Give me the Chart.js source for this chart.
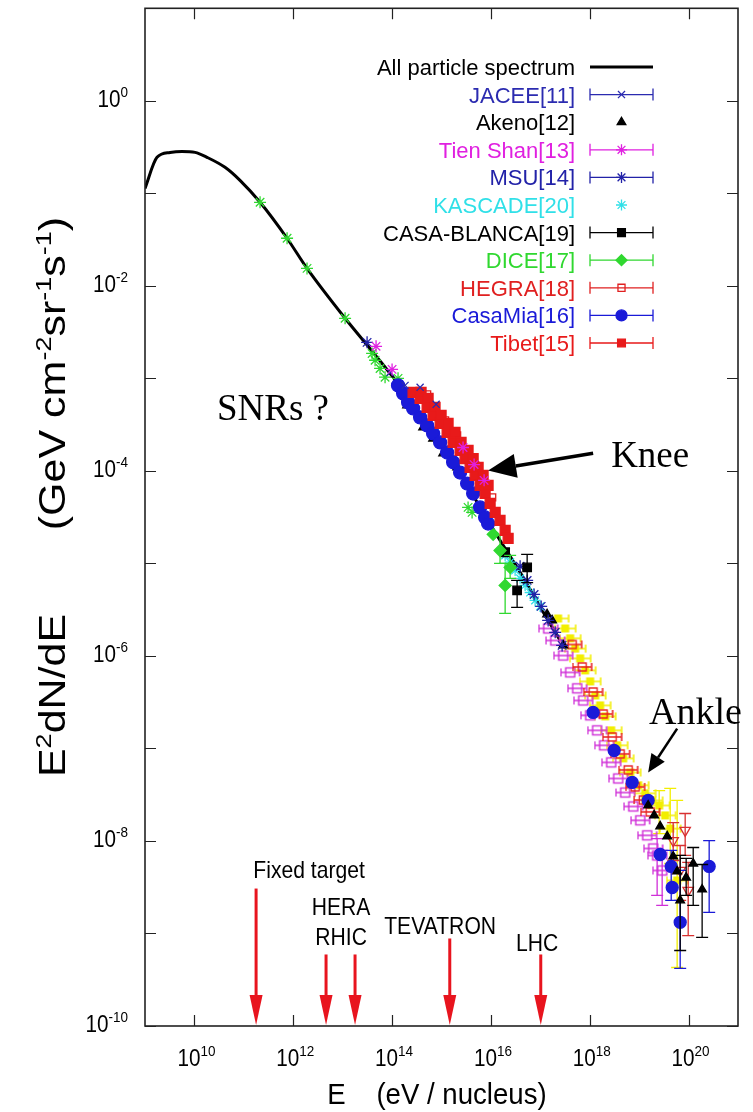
<!DOCTYPE html>
<html>
<head>
<meta charset="utf-8">
<script src="https://cdn.jsdelivr.net/npm/chart.js@4.4.1/dist/chart.umd.min.js"></script>
<style>
  html, body { margin: 0; padding: 0; background: #fff; }
</style>
</head>
<body>
<canvas id="c" width="753" height="1112"></canvas>
<script>
// ---- data (E in eV, E^2 dN/dE in GeV cm^-2 sr^-1 s^-1) ----
const curveE = [1e9, 1.75e9, 3.21e9, 5.61e9, 1.03e10, 1.8e10, 4.16e10, 8.37e10, 2.13e11, 7.48e11, 1.9e12, 1.12e13, 4.12e13, 1.26e14, 3.69e14, 1.18e15, 3.79e15, 1.22e16, 3.9e16, 1.25e17, 2.52e17];
const curveF = [0.113, 0.245, 0.277, 0.284, 0.277, 0.245, 0.191, 0.138, 0.080, 0.0327, 0.01545, 0.00446, 0.00191, 9.06e-4, 4.08e-4, 1.67e-4, 6.15e-5, 2.16e-5, 8.0e-6, 2.74e-6, 1.47e-6];

const greenE = [2.13e11, 7.5e11, 1.9e12, 1.12e13, 3.94e13, 4.53e13, 5.71e13, 7.21e13, 1.32e14, 3.45e15, 4.16e15];
const greenF = [0.080, 0.0327, 0.01545, 0.00446, 0.00186, 0.00157, 0.00128, 0.00103, 0.0010, 4.03e-5, 3.56e-5];

const jaceeE = [9.12e13, 1.83e14, 3.69e14, 7.78e14];
const jaceeF = [1.16e-3, 8.4e-4, 8.0e-4, 5.24e-4];

const akenoE = [2.01e14, 4.25e14, 6.76e14, 1.08e15, 2.07e15, 1.37e17, 1.73e17, 2.9e17, 1.52e19, 2.01e19, 2.66e19, 3.69e19, 4.88e19, 5.87e19, 6.76e19, 8.93e19, 1.24e20, 1.88e20];
const akenoF = [5.1e-4, 2.95e-4, 2.24e-4, 1.55e-4, 1.09e-4, 2.81e-6, 2.42e-6, 1.3e-6, 2.42e-8, 1.89e-8, 1.44e-8, 1.12e-8, 6.8e-9, 4.68e-9, 2.28e-9, 4.03e-9, 5.71e-9, 2.99e-9];
const akenoLo = [null, null, null, null, null, null, null, null, null, null, null, null, null, null, 6.55e-10, 2.58e-9, 2.01e-9, 9.06e-10];
const akenoHi = [null, null, null, null, null, null, null, null, null, null, null, null, null, null, 6.97e-9, 6.47e-9, 8.5e-9, 5.57e-9];

const tienE = [4.74e13, 1.0e14, 2.73e15, 4.57e15, 7.28e15];
const tienF = [2.22e-3, 1.25e-3, 1.79e-4, 1.17e-4, 7.9e-5];

const msuE = [3.12e13, 3.9e16, 5.41e16, 7.48e16, 1.04e17, 1.44e17, 2.0e17, 2.76e17];
const msuF = [2.45e-3, 9.3e-6, 6.55e-6, 4.62e-6, 3.43e-6, 2.42e-6, 1.8e-6, 1.3e-6];

const kascadeE = [1.94e16, 2.45e16, 3.09e16, 3.9e16, 4.92e16, 6.22e16, 7.85e16, 9.9e16];
const kascadeF = [1.22e-5, 1.03e-5, 8.4e-6, 6.9e-6, 5.78e-6, 4.85e-6, 3.98e-6, 3.43e-6];

const casaBE = [1.94e16, 5.41e16, 3.39e16];
const casaBF = [1.32e-5, 9.06e-6, 5.1e-6];
const casaBLo = [null, 6.2e-6, 3.34e-6];
const casaBHi = [null, 1.25e-5, 6.55e-6];

const diceE = [1.11e16, 1.53e16, 2.45e16, 1.94e16];
const diceF = [2.06e-5, 1.38e-5, 9.06e-6, 5.78e-6];
const diceLo = [null, 1.0e-5, 6.9e-6, 2.88e-6];
const diceHi = [null, 2.01e-5, 1.22e-5, 1.0e-5];

const hegraE = [5.12e14, 1.18e15, 2.07e15, 4.79e15, 1.06e16];
const hegraF = [6.7e-4, 3.52e-4, 2.42e-4, 1.15e-4, 5.18e-5];

const casaMiaE = [1.32e14, 1.67e14, 2.11e14, 2.66e14, 3.69e14, 5.12e14, 6.76e14, 9.38e14, 1.30e15, 1.72e15, 2.38e15, 3.3e15, 4.37e15, 6.04e15, 7.64e15, 8.77e15];
const casaMiaF = [8.4e-4, 6.89e-4, 5.5e-4, 4.74e-4, 3.79e-4, 3.1e-4, 2.54e-4, 2.03e-4, 1.58e-4, 1.24e-4, 9.6e-5, 7.3e-5, 5.7e-5, 4.03e-5, 3.14e-5, 2.7e-5];

const tibetE = [2.66e14, 3.69e14, 5.12e14, 6.76e14, 9.38e14, 1.30e15, 1.72e15, 2.38e15, 3.0e15, 3.79e15, 4.79e15, 6.04e15, 7.64e15, 9.64e15, 1.22e16, 1.53e16, 1.94e16, 2.23e16,
                3.86e14, 5.36e14, 7.41e14, 9.82e14, 1.36e15, 1.88e15, 2.49e15, 3.45e15, 4.37e15, 5.51e15, 6.95e15, 8.77e15];
const tibetF = [7.06e-4, 6.08e-4, 4.85e-4, 3.98e-4, 3.27e-4, 2.61e-4, 2.03e-4, 1.67e-4, 1.36e-4, 1.09e-4, 8.93e-5, 6.97e-5, 5.71e-5, 4.46e-5, 3.56e-5, 2.92e-5, 2.28e-5, 1.86e-5,
                7.06e-4, 6.08e-4, 4.85e-4, 3.98e-4, 3.27e-4, 2.61e-4, 2.03e-4, 1.67e-4, 1.36e-4, 1.09e-4, 8.93e-5, 6.97e-5];

// unlabelled high energy sets
const yelE = [2.29e17, 3.18e17, 4.01e17, 5.06e17, 6.4e17, 8.07e17, 1.02e18, 1.29e18, 1.62e18, 2.05e18, 2.71e18, 3.59e18, 4.74e18, 6.58e18, 9.55e18, 1.32e19, 1.83e19, 2.54e19, 3.36e19, 4.25e19, 5.87e19];
const yelF = [2.54e-6, 1.98e-6, 1.55e-6, 1.2e-6, 9.4e-7, 6.97e-7, 5.3e-7, 3.74e-7, 2.92e-7, 2.22e-7, 1.57e-7, 1.08e-7, 7.8e-8, 5.5e-8, 4.0e-8, 3.27e-8, 2.74e-8, 2.42e-8, 1.89e-8, 1.36e-8, 3.74e-9];
const yelLo = [null, null, null, null, null, null, null, null, null, null, null, null, null, null, null, null, null, 1.2e-8, null, 5.71e-9, 4.29e-10];
const yelHi = [null, null, null, null, null, null, null, null, null, null, null, null, null, null, null, null, null, 3.5e-8, null, 3.7e-8, 2.74e-8];

const magE = [1.44e17, 2.0e17, 2.9e17, 4.01e17, 5.56e17, 7.35e17, 1.02e18, 1.41e18, 1.95e18, 2.71e18, 3.76e18, 5.21e18, 7.57e18, 1.05e19, 1.45e19, 1.92e19, 2.31e19, 2.92e19];
const magF = [1.98e-6, 1.47e-6, 1.01e-6, 6.64e-7, 4.46e-7, 3.3e-7, 2.28e-7, 1.57e-7, 1.08e-7, 7.06e-8, 4.74e-8, 3.34e-8, 2.36e-8, 1.67e-8, 1.15e-8, 8.3e-9, 6.97e-9, 4.8e-9];
const magLo = [null, null, null, null, null, null, null, null, null, null, null, null, null, null, null, null, 2.58e-9, 2.01e-9];
const magHi = [null, null, null, null, null, null, null, null, null, null, null, null, null, null, null, null, 1.06e-8, 7.9e-9];

const redE = [4.4e17, 7.02e17, 1.17e18, 1.87e18, 2.84e18, 4.12e18, 5.98e18, 8.3e18, 1.21e19, 1.67e19];
const redF = [1.33e-6, 7.6e-7, 4.08e-7, 2.36e-7, 1.33e-7, 8.73e-8, 5.86e-8, 3.84e-8, 2.77e-8, 2.06e-8];

const haverahE = [4.88e19, 6.76e19, 8.53e19, 9.82e19];
const haverahF = [1.01e-8, 4.8e-9, 1.3e-8, 2.92e-9];
const haverahLo = [6.15e-9, 2.28e-9, 6.97e-9, 9.5e-10];
const haverahHi = [1.58e-8, 8.93e-9, 1.98e-8, 5.86e-9];

const blueE = [1.17e18, 3.12e18, 7.21e18, 1.52e19, 2.66e19, 4.45e19, 4.66e19, 6.76e19, 2.61e20];
const blueF = [2.45e-7, 9.5e-8, 4.29e-8, 2.74e-8, 7.14e-9, 5.3e-9, 3.14e-9, 1.32e-9, 5.3e-9];
const blueLo = [null, null, null, null, null, 2.28e-9, null, 4.19e-10, 1.69e-9];
const blueHi = [null, null, null, null, null, 7.9e-9, null, 4.8e-9, 1.01e-8];

// accelerator energies and arrow tops
const accelE = [1.77e11, 4.61e12, 1.78e13, 1.47e15, 1.02e17];
const accelTop = [3.06e-9, 5.93e-10, 5.93e-10, 8.83e-10, 5.93e-10];
const accelNames = ['Fixed target', 'HERA', 'RHIC', 'TEVATRON', 'LHC'];
const accelLabelE = [2.09e12, 9.29e12, 9.29e12, 9.38e14, 8.61e16];
const accelLabelF = [4.8e-9, 1.91e-9, 9.06e-10, 1.19e-9, 7.8e-10];

// axis ticks
const xTickVals = [1e10, 1e12, 1e14, 1e16, 1e18, 1e20];
const xTickExps = ['10', '12', '14', '16', '18', '20'];
const yTickVals = [10, 1, 1e-1, 1e-2, 1e-3, 1e-4, 1e-5, 1e-6, 1e-7, 1e-8, 1e-9, 1e-10];
const yLabelVals = [1, 1e-2, 1e-4, 1e-6, 1e-8, 1e-10];
const yLabelExps = ['0', '-2', '-4', '-6', '-8', '-10'];

const SANS = "'Liberation Sans', Arial, Helvetica, sans-serif";
const SERIF = "'Liberation Serif', 'Times New Roman', serif";

function pts(E, F) { return E.map((e, i) => ({ x: e, y: F[i] })); }

// small marker with horizontal bar and caps
function barMarker(color, filled, half, sq) {
  const c = document.createElement('canvas');
  c.width = 2 * half + 3; c.height = 14;
  const g = c.getContext('2d');
  const mid = half + 1.5;
  g.strokeStyle = color; g.fillStyle = color; g.lineWidth = 1.4;
  g.beginPath();
  g.moveTo(1, 7); g.lineTo(2 * half + 2, 7);
  g.moveTo(1.2, 3); g.lineTo(1.2, 11);
  g.moveTo(2 * half + 1.8, 3); g.lineTo(2 * half + 1.8, 11);
  g.stroke();
  if (filled) g.fillRect(mid - sq / 2, 7 - sq / 2, sq, sq);
  else g.strokeRect(mid - sq / 2, 7 - sq / 2, sq, sq);
  return c;
}

function set(label, E, F, style) {
  return Object.assign({ label, data: pts(E, F), showLine: false, pointBorderWidth: 1.3 }, style);
}

const datasets = [
  set('All particle spectrum', curveE, curveF, { showLine: true, borderColor: '#000', borderWidth: 3, pointRadius: 0, tension: 0.4, cubicInterpolationMode: 'monotone', order: 100, inLegend: true }),
  set('JACEE[11]', jaceeE, jaceeF, { pointStyle: 'crossRot', pointRadius: 5, borderColor: '#2b2bb0', pointBorderColor: '#2b2bb0', pointBackgroundColor: '#2b2bb0', order: 5, inLegend: true, legendBar: true }),
  set('Akeno[12]', akenoE, akenoF, { pointStyle: 'triangle', pointRadius: 5, borderColor: '#000', pointBorderColor: '#000', pointBackgroundColor: '#000', order: 30, inLegend: true, errLo: akenoLo, errHi: akenoHi }),
  set('Tien Shan[13]', tienE, tienF, { pointStyle: 'star', pointRadius: 6, borderColor: '#e020e0', pointBorderColor: '#e020e0', pointBackgroundColor: '#e020e0', order: 4, inLegend: true, legendBar: true }),
  set('MSU[14]', msuE, msuF, { pointStyle: 'star', pointRadius: 6, borderColor: '#2222a8', pointBorderColor: '#2222a8', pointBackgroundColor: '#2222a8', order: 19, inLegend: true, legendBar: true }),
  set('KASCADE[20]', kascadeE, kascadeF, { pointStyle: 'star', pointRadius: 5.5, borderColor: '#30e0e8', pointBorderColor: '#30e0e8', pointBackgroundColor: '#30e0e8', order: 20, inLegend: true }),
  set('CASA-BLANCA[19]', casaBE, casaBF, { pointStyle: 'rect', pointRadius: 6, borderColor: '#000', pointBorderColor: '#000', pointBackgroundColor: '#000', order: 15, inLegend: true, legendBar: true, errLo: casaBLo, errHi: casaBHi }),
  set('DICE[17]', diceE, diceF, { pointStyle: 'rectRot', pointRadius: 6, borderColor: '#30d830', pointBorderColor: '#30d830', pointBackgroundColor: '#30d830', order: 14, inLegend: true, legendBar: true, errLo: diceLo, errHi: diceHi }),
  set('HEGRA[18]', hegraE, hegraF, { pointStyle: 'rect', pointRadius: 5, borderColor: '#e02020', pointBorderColor: '#e02020', pointBackgroundColor: 'rgba(255,255,255,0)', order: 8, inLegend: true, legendBar: true }),
  set('CasaMia[16]', casaMiaE, casaMiaF, { pointStyle: 'circle', pointRadius: 6.5, borderColor: '#1a1ad8', pointBorderColor: '#1a1ad8', pointBackgroundColor: '#1a1ad8', order: 10, inLegend: true, legendBar: true }),
  set('Tibet[15]', tibetE, tibetF, { pointStyle: 'rect', pointRadius: 7, borderColor: '#e81a1a', pointBorderColor: '#e81a1a', pointBackgroundColor: '#e81a1a', order: 7, inLegend: true, legendBar: true }),
  set('', greenE, greenF, { pointStyle: 'star', pointRadius: 6, borderColor: '#30d830', pointBorderColor: '#30d830', order: 12 }),
  set('', yelE, yelF, { pointStyle: barMarker('#f2ee00', true, 10, 8), borderColor: '#f2ee00', order: 50, errLo: yelLo, errHi: yelHi }),
  set('', magE, magF, { pointStyle: barMarker('#d030d8', false, 9, 9), borderColor: '#d030d8', order: 45, errLo: magLo, errHi: magHi }),
  set('', redE, redF, { pointStyle: barMarker('#e82020', false, 9, 8), borderColor: '#e82020', order: 44 }),
  set('', haverahE, haverahF, { pointStyle: 'triangle', rotation: 180, pointRadius: 6, borderColor: '#d83030', pointBorderColor: '#d83030', pointBackgroundColor: 'rgba(255,255,255,0)', order: 41, errLo: haverahLo, errHi: haverahHi }),
  set('', blueE, blueF, { pointStyle: 'circle', pointRadius: 6, borderColor: '#1a1ad8', pointBorderColor: '#1a1ad8', pointBackgroundColor: '#1a1ad8', order: 40, errLo: blueLo, errHi: blueHi })
];

// text with superscripts: parts = [[text, isSup], ...]
function rich(ctx, parts, x, y, o) {
  const sx = o.sx || 1, sy = o.sy || 1;
  let w = 0;
  parts.forEach(p => { ctx.font = (p[1] ? o.sup : o.size) + 'px ' + (o.family || SANS); w += ctx.measureText(p[0]).width; });
  let cx = o.align === 'right' ? -w : o.align === 'center' ? -w / 2 : 0;
  ctx.save();
  ctx.translate(x, y);
  if (o.rotate) ctx.rotate(o.rotate);
  ctx.scale(sx, sy);
  ctx.fillStyle = o.color || '#000';
  ctx.textAlign = 'left';
  ctx.textBaseline = 'alphabetic';
  parts.forEach(p => {
    ctx.font = (p[1] ? o.sup : o.size) + 'px ' + (o.family || SANS);
    ctx.fillText(p[0], cx, p[1] ? -o.raise : 0);
    cx += ctx.measureText(p[0]).width;
  });
  ctx.restore();
}

function arrow(ctx, x1, y1, x2, y2, len, half, lw, color) {
  const a = Math.atan2(y2 - y1, x2 - x1);
  const bx = x2 - len * Math.cos(a), by = y2 - len * Math.sin(a);
  ctx.save();
  ctx.strokeStyle = color; ctx.fillStyle = color; ctx.lineWidth = lw;
  ctx.beginPath(); ctx.moveTo(x1, y1); ctx.lineTo(bx, by); ctx.stroke();
  ctx.beginPath();
  ctx.moveTo(x2, y2);
  ctx.lineTo(bx + half * Math.sin(a), by - half * Math.cos(a));
  ctx.lineTo(bx - half * Math.sin(a), by + half * Math.cos(a));
  ctx.closePath(); ctx.fill();
  ctx.restore();
}

const errorBars = {
  id: 'errorBars',
  beforeDatasetDraw(chart, args) {
    const ds = chart.data.datasets[args.index];
    if (!ds.errLo) return;
    const { ctx } = chart, x = chart.scales.x, y = chart.scales.y;
    ctx.save();
    ctx.strokeStyle = ds.borderColor; ctx.lineWidth = 1.3;
    ds.data.forEach((p, i) => {
      const lo = ds.errLo[i], hi = ds.errHi[i];
      if (lo == null) return;
      const px = x.getPixelForValue(p.x), y1 = y.getPixelForValue(lo), y2 = y.getPixelForValue(hi);
      ctx.beginPath();
      ctx.moveTo(px, y1); ctx.lineTo(px, y2);
      ctx.moveTo(px - 6, y1); ctx.lineTo(px + 6, y1);
      ctx.moveTo(px - 6, y2); ctx.lineTo(px + 6, y2);
      ctx.stroke();
    });
    ctx.restore();
  }
};

const decor = {
  id: 'decor',
  beforeDraw(chart) {
    const { ctx } = chart;
    ctx.save(); ctx.fillStyle = '#fff'; ctx.fillRect(0, 0, chart.width, chart.height); ctx.restore();
  },
  afterDraw(chart) {
    const { ctx, chartArea: a } = chart, x = chart.scales.x, y = chart.scales.y;
    ctx.save();
    // frame and inward ticks
    ctx.strokeStyle = '#222'; ctx.lineWidth = 1.6;
    ctx.strokeRect(a.left, a.top, a.right - a.left, a.bottom - a.top);
    ctx.lineWidth = 1.2;
    ctx.beginPath();
    xTickVals.forEach(v => {
      const px = Math.round(x.getPixelForValue(v)) + 0.5;
      ctx.moveTo(px, a.bottom); ctx.lineTo(px, a.bottom - 11);
      ctx.moveTo(px, a.top); ctx.lineTo(px, a.top + 11);
    });
    yTickVals.forEach(v => {
      const py = Math.round(y.getPixelForValue(v)) + 0.5;
      ctx.moveTo(a.left, py); ctx.lineTo(a.left + 11, py);
      ctx.moveTo(a.right, py); ctx.lineTo(a.right - 11, py);
    });
    ctx.stroke();
    ctx.restore();

    // tick labels
    xTickVals.forEach((v, i) => {
      rich(ctx, [['10', false], [xTickExps[i], true]], x.getPixelForValue(v) + 2, 1066, { size: 23, sup: 15, raise: 10, align: 'center', sx: 0.9 });
    });
    yLabelVals.forEach((v, i) => {
      rich(ctx, [['10', false], [yLabelExps[i], true]], 128, y.getPixelForValue(v) + 6, { size: 23, sup: 15, raise: 10, align: 'right', sx: 0.9 });
    });

    // axis titles
    rich(ctx, [['E    (eV / nucleus)', false]], 437, 1104, { size: 30, sup: 18, raise: 0, align: 'center', sx: 0.92 });
    rich(ctx, [['E', false], ['2', true], ['dN/dE       (GeV cm', false], ['-2', true], ['sr', false], ['-1', true], ['s', false], ['-1', true], [')', false]],
      65, 497, { size: 43, sup: 27, raise: 17, align: 'center', rotate: -Math.PI / 2, sy: 0.85 });

    // legend
    const rows = datasets.filter(d => d.inLegend);
    rows.forEach((d, i) => {
      const ry = 67 + i * 27.6;
      rich(ctx, [[d.label, false]], 575, ry + 8, { size: 22, sup: 14, raise: 0, align: 'right', color: d.borderColor });
      ctx.save();
      ctx.strokeStyle = d.borderColor; ctx.fillStyle = d.pointBackgroundColor || d.borderColor;
      if (i === 0) {
        ctx.lineWidth = 3;
        ctx.beginPath(); ctx.moveTo(590, ry); ctx.lineTo(653, ry); ctx.stroke();
      } else {
        ctx.lineWidth = 1.3;
        if (d.legendBar) {
          ctx.beginPath();
          ctx.moveTo(590, ry); ctx.lineTo(653, ry);
          ctx.moveTo(590, ry - 6); ctx.lineTo(590, ry + 6);
          ctx.moveTo(653, ry - 6); ctx.lineTo(653, ry + 6);
          ctx.stroke();
        }
        Chart.helpers.drawPoint(ctx, { pointStyle: d.pointStyle, radius: Math.min(d.pointRadius, 5.5), rotation: 0, borderWidth: 1.3 }, 621.5, ry);
      }
      ctx.restore();
    });

    // accelerator arrows and labels
    accelE.forEach((e, i) => {
      const px = x.getPixelForValue(e);
      arrow(ctx, px, y.getPixelForValue(accelTop[i]), px, a.bottom - 1, 30, 6.5, 3, '#e8141e');
    });
    accelNames.forEach((t, i) => {
      rich(ctx, [[t, false]], x.getPixelForValue(accelLabelE[i]), y.getPixelForValue(accelLabelF[i]) + 8, { size: 24, sup: 14, raise: 0, align: 'center', sx: 0.88 });
    });

    // annotations (anchors are text baselines)
    rich(ctx, [['SNRs ?', false]], x.getPixelForValue(2.86e10), y.getPixelForValue(3.52e-4), { size: 37, family: SERIF, align: 'left' });
    rich(ctx, [['Knee', false]], x.getPixelForValue(2.71e18), y.getPixelForValue(1.09e-4), { size: 37, family: SERIF, align: 'left' });
    rich(ctx, [['Ankle', false]], x.getPixelForValue(1.59e19), y.getPixelForValue(1.86e-7), { size: 38, family: SERIF, align: 'left' });
    arrow(ctx, x.getPixelForValue(1.17e18), y.getPixelForValue(1.55e-4), x.getPixelForValue(8.77e15), y.getPixelForValue(1.01e-4), 28, 12, 3.5, '#000');
    arrow(ctx, x.getPixelForValue(5.87e19), y.getPixelForValue(1.64e-7), x.getPixelForValue(1.52e19), y.getPixelForValue(5.5e-8), 18, 8, 2.5, '#000');
  }
};

new Chart(document.getElementById('c'), {
  type: 'scatter',
  data: { datasets },
  options: {
    responsive: false,
    animation: false,
    devicePixelRatio: 1,
    layout: { padding: { left: 145, right: 15, top: 8, bottom: 86 } },
    plugins: { legend: { display: false }, tooltip: { enabled: false } },
    scales: {
      x: { type: 'logarithmic', min: 1e9, max: 1e21, display: false },
      y: { type: 'logarithmic', min: 1e-10, max: 10, display: false }
    }
  },
  plugins: [errorBars, decor]
});
</script>
</body>
</html>
